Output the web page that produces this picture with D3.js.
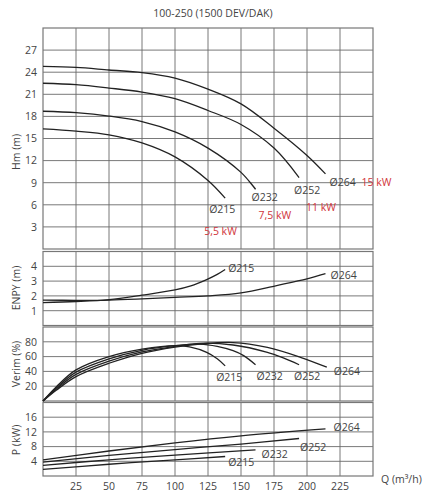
<!DOCTYPE html>
<html><head><meta charset="utf-8">
<script src="https://cdn.jsdelivr.net/npm/d3@7"></script>
<style>body{margin:0;background:#fff}svg{display:block}text{font-family:"Open Sans",sans-serif}</style>
</head><body><svg id="c" width="429" height="500"></svg>
<script>
// ---- data ----
const title = "100-250 (1500 DEV/DAK)";
const xTicks = [25,50,75,100,125,150,175,200,225];
const hTicks = [3,6,9,12,15,18,21,24,27];
const npshTicks = [1,2,3,4];
const effTicks = [20,40,60,80];
const powTicks = [4,8,12,16];
const diameters = ["Ø215","Ø232","Ø252","Ø264"];
const motorKW = ["5,5 kW","7,5 kW","11 kW","15 kW"];

const H215 = [[0,16.3],[25,16.0],[50,15.5],[75,14.4],[100,12.5],[125,9.3],[138,6.9]];
const H232 = [[0,18.7],[25,18.5],[50,18.05],[75,17.3],[100,15.9],[125,13.7],[150,10.4],[161,8.1]];
const H252 = [[0,22.5],[25,22.3],[50,21.85],[75,21.3],[100,20.4],[125,18.8],[150,16.9],[175,13.7],[194,9.7]];
const H264 = [[0,24.8],[25,24.65],[50,24.3],[75,23.95],[100,23.2],[125,21.7],[150,19.7],[175,16.4],[200,12.7],[214,10.2]];

const N215 = [[0,1.55],[25,1.62],[50,1.75],[75,2.05],[100,2.4],[112,2.67],[124,3.1],[132,3.45],[138,3.78]];
const N264 = [[0,1.72],[25,1.7],[50,1.72],[75,1.8],[100,1.9],[125,2.0],[150,2.2],[177,2.7],[200,3.15],[214,3.5]];

const E215 = [[0,0],[10,19],[25,42],[50,60],[75,70],[100,74.9],[111,73],[124,65.7],[132,57],[138,47.5]];
const E232 = [[0,0],[10,17.5],[25,39],[50,57],[75,68.5],[100,74.7],[119,76.9],[132,73.8],[144,68],[152,61.3],[161,49]];
const E252 = [[0,0],[10,16],[25,36],[50,54],[75,66.3],[100,73.8],[119,78],[144,75.7],[170,65.7],[182,58.2],[194,49]];
const E264 = [[0,0],[10,14.5],[25,33],[50,51],[75,64.5],[100,72.9],[119,77],[144,79],[170,72.4],[195,59.1],[215,45.7]];

const P215 = [[0,1.8],[50,3.2],[100,4.4],[138,5.3]];
const P232 = [[0,2.9],[50,4.4],[100,5.7],[161,7.1]];
const P252 = [[0,3.8],[50,5.6],[100,7.2],[150,8.7],[194,10.2]];
const P264 = [[0,4.4],[50,6.8],[100,9.0],[150,10.9],[214,12.8]];

// ---- drawing ----
const svg = d3.select("#c");
const x = d3.scaleLinear().domain([0,250]).range([43,373]);
const txt = "#444", grid = "#6a6a6a", curveCol = "#222", red = "#d0343a";

svg.append("text").attr("x",213).attr("y",17).attr("text-anchor","middle")
  .attr("font-size",10.5).attr("fill",txt).text(title);

const panels = [
  {y: d3.scaleLinear().domain([0,30]).range([249,28]), ticks:hTicks, label:"Hm (m)", ly:152,
   series:[H215,H232,H252,H264]},
  {y: d3.scaleLinear().domain([0,5]).range([325.5,251.5]), ticks:npshTicks, label:"ENPY (m)", ly:288,
   series:[N215,N264]},
  {y: d3.scaleLinear().domain([0,100]).range([401,327]), ticks:effTicks, label:"Verim (%)", ly:364,
   series:[E215,E232,E252,E264]},
  {y: d3.scaleLinear().domain([0,20]).range([476,402.5]), ticks:powTicks, label:"P (kW)", ly:440,
   series:[P215,P232,P252,P264]}
];

const line = (ys) => d3.line().x(d=>x(d[0])).y(d=>ys(d[1])).curve(d3.curveCatmullRom.alpha(0.5));

panels.forEach(p => {
  const g = svg.append("g");
  const [y0,y1] = p.y.range();
  g.selectAll(".h").data(p.ticks).join("line")
    .attr("x1",x(0)).attr("x2",x(250)).attr("y1",d=>p.y(d)).attr("y2",d=>p.y(d))
    .attr("stroke",grid).attr("stroke-width",0.9);
  g.selectAll(".v").data(xTicks).join("line")
    .attr("x1",d=>x(d)).attr("x2",d=>x(d)).attr("y1",y1).attr("y2",y0)
    .attr("stroke",grid).attr("stroke-width",0.9);
  g.append("rect").attr("x",x(0)).attr("y",y1).attr("width",x(250)-x(0)).attr("height",y0-y1)
    .attr("fill","none").attr("stroke","#777").attr("stroke-width",1.2);
  g.selectAll(".t").data(p.ticks).join("text")
    .attr("x",37).attr("y",d=>p.y(d)+3.8).attr("text-anchor","end")
    .attr("font-size",10.5).attr("fill",txt).text(d=>d);
  g.append("text").attr("transform",`translate(20,${p.ly}) rotate(-90)`)
    .attr("text-anchor","middle").attr("font-size",10.5).attr("fill",txt).text(p.label);
  g.selectAll(".c").data(p.series).join("path")
    .attr("d",d=>line(p.y)(d)).attr("fill","none").attr("stroke",curveCol).attr("stroke-width",1.3);
});

svg.selectAll(".xt").data(xTicks).join("text")
  .attr("x",d=>x(d)).attr("y",490).attr("text-anchor","middle")
  .attr("font-size",10.5).attr("fill",txt).text(d=>d);
svg.append("text").attr("x",381).attr("y",483).attr("font-size",10.5).attr("fill",txt).text("Q (m³/h)");

function lab(px, py, s, col, fs){
  svg.append("text").attr("x",px).attr("y",py).attr("font-size",fs||10.5).attr("fill",col||txt).text(s);
}
const yH = panels[0].y, yN = panels[1].y, yE = panels[2].y, yP = panels[3].y;
lab(x(138)-16, yH(6.9)+15, diameters[0]);
lab(x(161)-4, yH(8.1)+12, diameters[1]);
lab(x(194)-5, yH(9.7)+16, diameters[2]);
lab(x(214)+4, yH(10.2)+12, diameters[3]);
lab(x(138)-21, yH(6.9)+37, motorKW[0], red);
lab(x(161)+3, yH(8.1)+30, motorKW[1], red);
lab(x(194)+7, yH(9.7)+33, motorKW[2], red);
lab(x(214)+36, yH(10.2)+12, motorKW[3], red);
lab(x(138)+3, yN(3.78)+2, diameters[0]);
lab(x(214)+5, yN(3.5)+5, diameters[3]);
lab(x(138)-9, yE(47.5)+15, diameters[0]);
lab(x(161)+1, yE(49)+15, diameters[1]);
lab(x(194)-5, yE(49)+15, diameters[2]);
lab(x(215)+7, yE(45.7)+8, diameters[3]);
lab(x(138)+3, yP(5.3)+9, diameters[0]);
lab(x(161)+6, yP(7.1)+8, diameters[1]);
lab(x(194)+1, yP(10.2)+12, diameters[2]);
lab(x(214)+8, yP(12.8)+2, diameters[3]);
</script></body></html>
